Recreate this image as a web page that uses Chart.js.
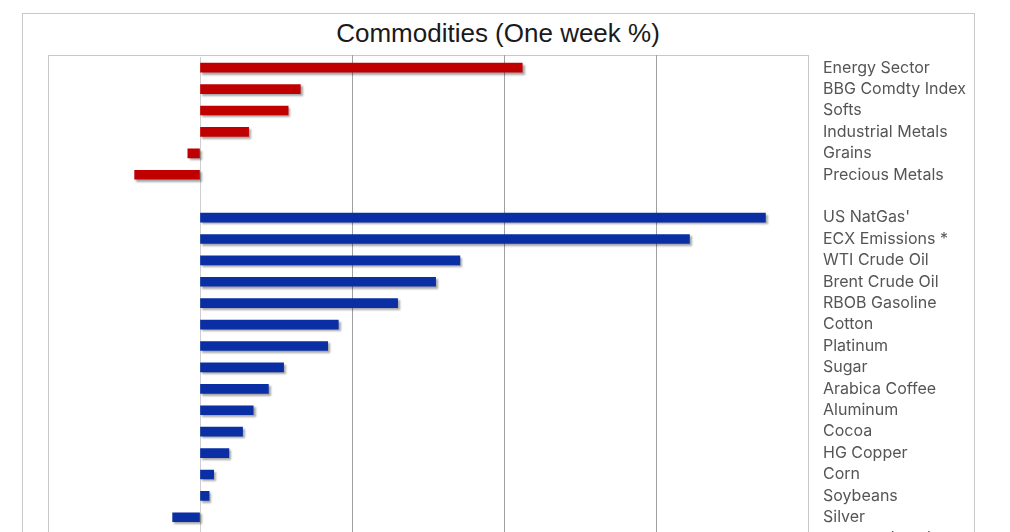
<!DOCTYPE html>
<html>
<head>
<meta charset="utf-8">
<script src="https://cdn.jsdelivr.net/npm/chart.js@4"></script>
<style>
  html, body { margin: 0; padding: 0; background: #fff; overflow: hidden; }
  #frame {
    position: absolute; left: 22px; top: 13px;
    width: 951px; height: 700px;
    border: 1px solid #c8c8c8;
  }
  #title {
    position: absolute; left: 0; top: 18px; width: 996px;
    text-align: center; line-height: 30px;
    font: 26px 'Liberation Sans', Arial, sans-serif; color: #1a1a1a;
  }
  #wrap { position: absolute; left: 0; top: 0; width: 1010px; height: 574px; }
</style>
</head>
<body>
<div id="frame"></div>
<div id="title">Commodities (One week %)</div>
<div id="wrap"><canvas id="chart"></canvas></div>
<script>
// Sector indices (red group), one week % change
var sectorLabels = ['Energy Sector', 'BBG Comdty Index', 'Softs', 'Industrial Metals', 'Grains', 'Precious Metals'];
var sectorValues = [10.6, 3.3, 2.9, 1.6, -0.4, -2.15];

// Individual commodities (blue group)
var commodityLabels = ["US NatGas'", 'ECX Emissions *', 'WTI Crude Oil', 'Brent Crude Oil', 'RBOB Gasoline',
    'Cotton', 'Platinum', 'Sugar', 'Arabica Coffee', 'Aluminum', 'Cocoa', 'HG Copper', 'Corn',
    'Soybeans', 'Silver', 'Iron Ore (SGX)'];
var commodityValues = [18.6, 16.1, 8.55, 7.75, 6.5, 4.55, 4.2, 2.75, 2.25, 1.75, 1.4, 0.95, 0.45,
    0.3, -0.9, null];

var xTicks = [-5, 0, 5, 10, 15, 20];

var sectorColor = '#c00000';
var commodityColor = '#0a2ea4';

// one blank row between the two groups
var labels = sectorLabels.concat(['']).concat(commodityLabels);
var values = sectorValues.concat([null]).concat(commodityValues);
var colors = sectorLabels.map(function() { return sectorColor; })
    .concat([sectorColor])
    .concat(commodityLabels.map(function() { return commodityColor; }));

// soft drop shadow under the bars, like the original
var barShadow = {
    id: 'barShadow',
    beforeDatasetsDraw: function(chart) {
        var ctx = chart.ctx;
        ctx.save();
        ctx.shadowColor = 'rgba(0, 0, 0, 0.35)';
        ctx.shadowOffsetX = 2;
        ctx.shadowOffsetY = 2;
        ctx.shadowBlur = 2;
    },
    afterDatasetsDraw: function(chart) {
        chart.ctx.restore();
    }
};

// light frame round the plot area (top edge sits 2px above the first row band)
var plotFrame = {
    id: 'plotFrame',
    beforeDatasetsDraw: function(chart) {
        var a = chart.chartArea, ctx = chart.ctx;
        var top = Math.round(a.top) - 2;
        ctx.save();
        ctx.strokeStyle = '#c8c8c8';
        ctx.lineWidth = 1;
        ctx.strokeRect(Math.round(a.left) + 0.5, top + 0.5,
            Math.round(a.right - a.left), Math.round(a.bottom) - top);
        ctx.strokeStyle = '#a0a0a0';
        chart.scales.x.ticks.forEach(function(t) {
            if (t.value === xTicks[0] || t.value === 0 || t.value === xTicks[xTicks.length - 1]) return;
            var x = Math.round(chart.scales.x.getPixelForValue(t.value)) + 0.5;
            ctx.beginPath();
            ctx.moveTo(x, top);
            ctx.lineTo(x, a.top + 1);
            ctx.stroke();
        });
        ctx.restore();
    }
};

new Chart(document.getElementById('chart'), {
    type: 'bar',
    data: {
        labels: labels,
        datasets: [{
            data: values,
            backgroundColor: colors,
            barThickness: 9,
            borderSkipped: false
        }]
    },
    plugins: [plotFrame, barShadow],
    options: {
        indexAxis: 'y',
        responsive: true,
        maintainAspectRatio: false,
        animation: false,
        layout: { padding: { left: 48, right: 0, top: 57, bottom: 0 } },
        plugins: {
            legend: { display: false },
            tooltip: { enabled: false },
            title: { display: false }
        },
        scales: {
            x: {
                min: xTicks[0],
                max: xTicks[xTicks.length - 1],
                afterBuildTicks: function(scale) {
                    scale.ticks = xTicks.map(function(v) { return { value: v }; });
                },
                grid: {
                    color: function(c) {
                        if (c.tick && (c.tick.value === 0 || c.tick.value === xTicks[0] ||
                            c.tick.value === xTicks[xTicks.length - 1])) return '#cfcfcf';
                        return '#a0a0a0';
                    },
                    lineWidth: 1,
                    drawTicks: false
                },
                border: { display: false },
                ticks: { color: '#555', font: { family: 'Inter, sans-serif', size: 14 } }
            },
            y: {
                position: 'right',
                grid: { display: false, drawTicks: false },
                border: { display: false },
                afterFit: function(scale) { scale.width = 202; },
                ticks: {
                    padding: 15,
                    autoSkip: false,
                    color: '#555',
                    font: { family: 'Inter, sans-serif', size: 16 }
                }
            }
        }
    }
});
</script>
</body>
</html>
